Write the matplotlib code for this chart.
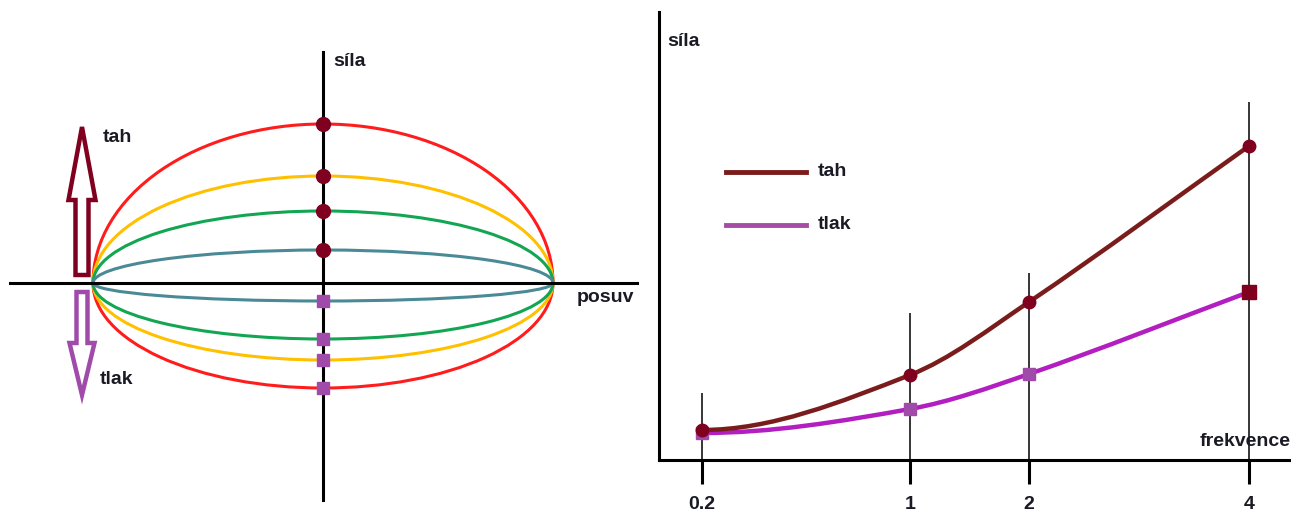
import numpy as np
import matplotlib.pyplot as plt
import matplotlib.patches as mpatches
from matplotlib.path import Path

plt.rcParams['font.family'] = ['Liberation Sans', 'DejaVu Sans']

# ---- left panel: force / displacement loops (arbitrary units) ----
loop_colors = ['#ff1c1c', '#ffc000', '#13a652', '#4a8a96']
half_width = 230
tah_heights = [159, 107, 72, 33]      # upper half (tension)
tlak_heights = [105, 77, 56, 18]      # lower half (compression)

# ---- right panel: force vs frequency ----
freq_labels = ['0.2', '1', '2', '4']
freq_pos = [43, 251, 370, 590]        # hand-drawn, non-uniform axis
tah_force = [30, 85, 158, 314]
tlak_force = [27, 51, 86, 168]
guide_top = [67, 147, 187, 358]
series_names = ['tah', 'tlak']

DARK = '#800020'
PURP = '#a04aaa'
TXT = '#1a1a24'


def smooth_path(xs, ys):
    # piecewise cubic Hermite in x, flat start
    xs = np.asarray(xs, float)
    ys = np.asarray(ys, float)
    n = len(xs)
    m = np.zeros(n)
    for i in range(1, n - 1):
        m[i] = (ys[i + 1] - ys[i - 1]) / (xs[i + 1] - xs[i - 1])
    m[-1] = (ys[-1] - ys[-2]) / (xs[-1] - xs[-2])
    verts = [(xs[0], ys[0])]
    codes = [Path.MOVETO]
    for i in range(n - 1):
        h = xs[i + 1] - xs[i]
        verts += [(xs[i] + h / 3, ys[i] + m[i] * h / 3),
                  (xs[i + 1] - h / 3, ys[i + 1] - m[i + 1] * h / 3),
                  (xs[i + 1], ys[i + 1])]
        codes += [Path.CURVE4] * 3
    return Path(verts, codes)


fig = plt.figure(figsize=(12.91, 5.12), dpi=100)

# left panel, 1 unit = 1 pixel, origin at axes crossing
axL = fig.add_axes([0, 0, 645 / 1291, 1])
axL.set_xlim(-323, 322)
axL.set_ylim(-229, 283)
axL.axis('off')

axL.plot([-313, 314], [0, 0], color='black', lw=2.2, zorder=3)
axL.plot([0, 0], [-217, 231], color='black', lw=2.2, zorder=3)

for c, hu, hl in zip(loop_colors, tah_heights, tlak_heights):
    axL.add_patch(mpatches.Arc((0, 0), 2 * half_width, 2 * hu, theta1=0, theta2=180,
                               color=c, lw=2.2, zorder=2))
    axL.add_patch(mpatches.Arc((0, 0), 2 * half_width, 2 * hl, theta1=180, theta2=360,
                               color=c, lw=2.2, zorder=2))
axL.plot(np.zeros(len(tah_heights)), tah_heights, 'o', color=DARK, ms=10, zorder=4)
axL.plot(np.zeros(len(tlak_heights)), -np.array(tlak_heights), 's', color=PURP, ms=8, zorder=4)

axL.add_patch(mpatches.FancyArrow(-241, 8, 0, 148, width=13, head_width=27, head_length=73,
                                  length_includes_head=True, fill=False, edgecolor=DARK, lw=3.2))
axL.add_patch(mpatches.FancyArrow(-241, -9, 0, -103, width=11, head_width=25, head_length=52,
                                  length_includes_head=True, fill=False, edgecolor=PURP, lw=3.2))

axL.text(-220, 146, 'tah', fontsize=14, fontweight='bold', color=TXT, va='center')
axL.text(-223, -97, 'tlak', fontsize=14, fontweight='bold', color=TXT, va='center')
axL.text(10, 221, 'síla', fontsize=14, fontweight='bold', color=TXT, va='center')
axL.text(254, -15, 'posuv', fontsize=14, fontweight='bold', color=TXT, va='center')

# right panel
axR = fig.add_axes([659 / 1291, 52 / 512, 632 / 1291, 448 / 512])
axR.set_xlim(0, 632)
axR.set_ylim(0, 448)
for s in ['top', 'right']:
    axR.spines[s].set_visible(False)
axR.spines['left'].set_linewidth(2.2)
axR.spines['bottom'].set_linewidth(2.2)
axR.set_yticks([])
axR.set_xticks(freq_pos)
axR.set_xticklabels(freq_labels, fontsize=14, fontweight='bold', color=TXT)
axR.tick_params(axis='x', direction='out', length=17, width=2.2, pad=9)

axR.vlines(freq_pos, 0, guide_top, color='black', lw=1.1, zorder=1)

axR.add_patch(mpatches.PathPatch(smooth_path(freq_pos, tlak_force), fill=False,
                                 edgecolor='#b21ebf', lw=3.2, zorder=2))
axR.add_patch(mpatches.PathPatch(smooth_path(freq_pos, tah_force), fill=False,
                                 edgecolor='#7b1c1c', lw=3.2, zorder=3))
axR.plot(freq_pos[:-1], tlak_force[:-1], 's', color=PURP, ms=9, zorder=4)
axR.plot(freq_pos[-1:], tlak_force[-1:], 's', color=DARK, ms=10, zorder=4)
axR.plot(freq_pos, tah_force, 'o', color=DARK, ms=9, zorder=5)

# hand-made legend
for name, col, yy in zip(series_names, ['#7b1c1c', '#a64ca6'], [0.643, 0.525]):
    axR.plot([0.106, 0.232], [yy, yy], color=col, lw=3.5, transform=axR.transAxes)
    axR.text(0.251, yy, name, fontsize=14, fontweight='bold', color=TXT,
             va='center', transform=axR.transAxes)

axR.text(1.0, 19, 'frekvence', fontsize=14, fontweight='bold', color=TXT,
         ha='right', va='center', transform=axR.get_yaxis_transform())
axR.text(8, 418, 'síla', fontsize=14, fontweight='bold', color=TXT, va='center')

fig.savefig('out.png', dpi=100)
